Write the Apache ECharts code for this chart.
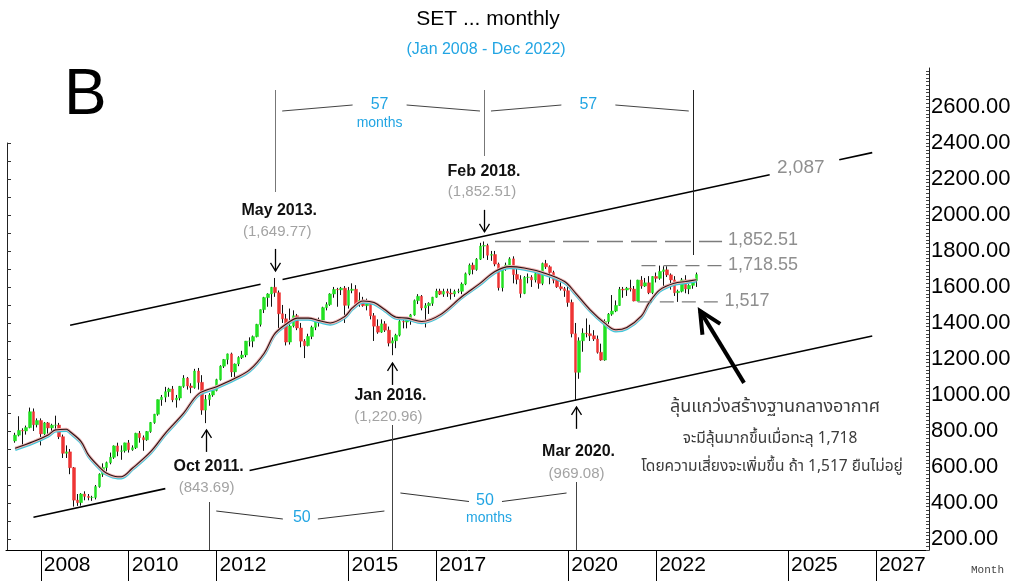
<!DOCTYPE html>
<html><head><meta charset="utf-8">
<script src="https://cdn.jsdelivr.net/npm/echarts@6/dist/echarts.min.js"></script>
<style>html,body{margin:0;padding:0;background:#fff}#c{width:1022px;height:581px}</style>
</head><body><div id="c"></div>
<script>
// ---------------- DATA ----------------
const firstMonth = [2007, 4];   // first category on the axis
const lastMonth  = [2028, 3];   // last category on the axis
const candleStart = [2007, 6];  // first candle
const xTickYears = [2008, 2010, 2012, 2015, 2017, 2020, 2022, 2025, 2027];
const yTickLabels = [200, 400, 600, 800, 1000, 1200, 1400, 1600, 1800, 2000, 2200, 2400, 2600];

const opens = [
 745,777,803,800,819,907,835,
 858,784,845,817,832,833,768,676,684,596,416,402,
 450,437,431,431,491,560,597,624,654,717,687,690,
 734,696,707,787,763,751,797,847,893,974,988,1018,
 1033,973,983,1048,1093,1050,1041,1133,1070,916,975,1000,
 1025,1085,1160,1197,1228,1128,1172,1208,1222,1299,1299,1324,
 1392,1474,1541,1561,1598,1568,1451,1423,1294,1383,1440,1372,
 1299,1274,1325,1376,1414,1416,1485,1502,1561,1586,1584,1593,
 1498,1581,1587,1505,1526,1496,1505,1440,1382,1349,1395,1360,
 1288,1301,1332,1408,1405,1424,1445,1524,1548,1483,1496,1509,
 1543,1577,1560,1575,1566,1561,1575,1576,1616,1673,1721,1697,
 1754,1827,1830,1776,1780,1727,1596,1701,1721,1756,1669,1642,
 1564,1653,1654,1639,1674,1620,1730,1712,1680,1637,1601,1590,
 1579,1514,1340,1126,1301,1343,1340,1329,1311,1237,1194,1408,
 1449,1466,1497,1587,1583,1593,1588,1522,1638,1605,1623,1568,
 1658,1648,1686,1695,1667,1639,1568,1576,1639,1589,1609,1635
];
const highs = [
 790,882,815,830,930,925,870,
 870,850,850,840,885,845,780,720,700,600,450,455,
 465,450,440,500,565,620,630,680,720,735,720,735,
 750,720,790,800,775,800,850,895,975,1000,1045,1040,
 1050,1000,1050,1110,1100,1065,1145,1150,1110,1000,1010,1040,
 1090,1165,1200,1230,1235,1175,1215,1245,1300,1320,1330,1395,
 1475,1545,1565,1600,1649.77,1580,1500,1450,1480,1470,1450,1400,
 1310,1340,1385,1420,1430,1490,1515,1565,1600,1595,1600,1605,
 1600,1620,1610,1570,1545,1535,1520,1455,1420,1420,1410,1380,
 1320,1340,1420,1420,1425,1450,1530,1560,1555,1510,1515,1545,
 1590,1590,1590,1590,1590,1585,1590,1625,1680,1730,1735,1760,
 1845,1852.51,1840,1800,1800,1735,1705,1735,1765,1770,1700,1665,
 1660,1675,1665,1680,1685,1735,1750,1720,1690,1650,1625,1600,
 1610,1530,1400,1320,1370,1425,1390,1360,1330,1285,1420,1455,
 1555,1525,1600,1600,1600,1640,1605,1640,1660,1650,1660,1660,
 1680,1718.55,1715,1715,1675,1660,1585,1650,1665,1615,1640,1680
];
const lows = [
 735,770,722,780,815,800,820,
 720,760,775,800,810,755,650,650,560,380,384,385,
 415,415,412,420,485,545,575,615,645,660,640,680,
 680,690,700,735,690,745,790,840,885,940,960,990,
 960,930,970,1040,1030,1010,1035,1030,890,843.69,940,990,
 1020,1080,1150,1170,1100,1095,1160,1200,1210,1270,1265,1320,
 1380,1455,1490,1490,1545,1360,1400,1275,1280,1375,1360,1265,
 1205,1270,1310,1360,1380,1410,1470,1495,1540,1490,1555,1400,
 1480,1565,1490,1490,1490,1470,1420,1300,1340,1345,1350,1270,
 1220.96,1260,1325,1370,1370,1390,1440,1505,1470,1375,1450,1495,
 1540,1555,1545,1545,1530,1545,1565,1560,1610,1665,1670,1690,
 1750,1760,1750,1745,1715,1580,1575,1690,1700,1620,1615,1540,
 1560,1620,1600,1625,1590,1610,1700,1615,1620,1595,1580,1545,
 1490,1320,969.08,1090,1240,1320,1300,1300,1230,1190,1190,1395,
 1440,1460,1495,1540,1550,1575,1520,1520,1590,1600,1560,1560,
 1625,1640,1600,1655,1585,1550,1517,1570,1565,1560,1590,1600
];
const closes = [
 777,803,800,819,907,835,858,
 784,845,817,832,833,768,676,684,596,416,402,450,
 437,431,431,491,560,597,624,654,717,687,690,734,
 696,707,787,763,751,797,847,893,974,988,1018,1033,
 973,983,1048,1093,1050,1041,1133,1070,916,975,1000,1025,
 1085,1160,1197,1228,1128,1172,1208,1222,1299,1299,1324,1392,
 1474,1541,1561,1598,1568,1451,1423,1294,1383,1440,1372,1299,
 1274,1325,1376,1414,1416,1485,1502,1561,1586,1584,1593,1498,
 1581,1587,1505,1526,1496,1505,1440,1382,1349,1395,1360,1288,
 1301,1332,1408,1405,1424,1445,1524,1548,1483,1496,1509,1543,
 1577,1560,1575,1566,1561,1575,1576,1616,1673,1721,1697,1754,
 1827,1830,1776,1780,1727,1596,1701,1721,1756,1669,1642,1564,
 1653,1654,1639,1674,1620,1730,1712,1680,1637,1601,1590,1579,
 1514,1340,1126,1301,1343,1340,1329,1311,1237,1194,1408,1449,
 1466,1497,1587,1583,1593,1588,1522,1638,1605,1623,1568,1658,
 1648,1686,1695,1667,1639,1568,1576,1639,1589,1609,1635,1669
];

// moving average
const maPoints = [
 ['2007-06',704],['2007-11',741],['2008-03',778],['2008-05',806],['2008-08',810],['2008-09',796],
 ['2008-12',741],['2009-02',667],['2009-05',599],['2009-07',565],['2009-10',546],['2009-11',546],
 ['2010-02',593],['2010-07',685],['2010-11',787],['2011-04',899],['2011-08',1005],['2012-01',1046],
 ['2012-06',1093],['2012-10',1139],['2013-02',1232],['2013-05',1343],['2013-09',1408],['2013-11',1427],
 ['2014-02',1427],['2014-05',1413],['2014-08',1400],['2014-12',1436],['2015-02',1482],['2015-05',1522],
 ['2015-08',1513],['2015-11',1473],['2016-02',1432],['2016-05',1427],['2016-09',1408],['2017-02',1445],
 ['2017-08',1547],['2018-01',1621],['2018-05',1686],['2018-09',1713],['2019-01',1705],['2019-06',1680],
 ['2019-12',1630],['2020-03',1566],['2020-07',1473],['2020-11',1399],['2021-02',1362],['2021-05',1375],
 ['2021-09',1439],['2021-11',1510],['2022-02',1584],['2022-06',1621],['2022-09',1630],['2022-12',1640]
];

// channel lines (segments with gaps where the labels sit)
const upperChannel = [
 [['2008-09',1387],['2013-01',1615]],
 [['2013-07',1641],['2024-08',2223]],
 [['2026-03',2306],['2026-12',2346]]
];
const lowerChannel = [
 [['2007-11',321],['2010-11',480]],
 [['2012-10',581],['2026-12',1328]]
];
// dashed levels
const levels = [
 {value:1852.51, from:'2018-05', to:'2023-07', label:'1,852.51'},
 {value:1718.55, from:'2021-09', to:'2023-07', label:'1,718.55'},
 {value:1517,    from:'2021-08', to:'2023-06', label:'1,517'}
];
const channelLabel = {month:'2024-10', value:2260, label:'2,087'};

// annotated turning points
const topEvents = [
 {month:'2013-05', title:'May 2013.', value:'(1,649.77)'},
 {month:'2018-02', title:'Feb 2018.', value:'(1,852.51)'}
];
const bottomEvents = [
 {month:'2011-10', title:'Oct 2011.', value:'(843.69)'},
 {month:'2016-01', title:'Jan 2016.', value:'(1,220.96)'},
 {month:'2020-03', title:'Mar 2020.', value:'(969.08)'}
];
const topCycleMonths = ['2013-05','2018-02','2022-11'];      // 57 months apart
const bottomCycleMonths = ['2011-11','2016-01','2020-03'];   // 50 months apart

const thaiLines = [
 'ลุ้นแกว่งสร้างฐานกลางอากาศ',
 'จะมีลุ้นมากขึ้นเมื่อทะลุ 1,718',
 'โดยความเสี่ยงจะเพิ่มขึ้น ถ้า 1,517 ยืนไม่อยู่'
];

// ---------------- BUILD ----------------
const pad = n => (n < 10 ? '0' : '') + n;
const cats = [];
for (let y = firstMonth[0], m = firstMonth[1]; y < lastMonth[0] || (y === lastMonth[0] && m <= lastMonth[1]); ) {
  cats.push(y + '-' + pad(m));
  m++; if (m > 12) { m = 1; y++; }
}
const startIdx = cats.indexOf(candleStart[0] + '-' + pad(candleStart[1]));
const wickData = [], bodyData = [];
opens.forEach((o, k) => {
  const c = cats[startIdx + k];
  wickData.push([c, o, closes[k], lows[k], highs[k]]);
  bodyData.push([c, o, closes[k], Math.min(o, closes[k]), Math.max(o, closes[k])]);
});

const FONT = "'Liberation Sans', Arial, sans-serif";
const THAI = "'Noto Sans Thai', 'Noto Sans Thai UI', 'Noto Sans', 'DejaVu Sans', sans-serif";
const BLUE = '#22a5e3';
const GREY = '#8f8f8f';
const Y_MIN = 139, Y_MAX = 2816;

const yearTick = (idx, val) => val.slice(5) === '01' && xTickYears.indexOf(+val.slice(0, 4)) >= 0;
const minorTicks = []; for (let v = 140; v <= 2800; v += 20) minorTicks.push(v);
const leftTicks = []; for (let v = 200; v <= 2400; v += 100) leftTicks.push(v);

const lineSeg = (data, color, width, type, z) => ({
  type: 'line', data: data, symbol: 'none', silent: true, z: z || 6,
  lineStyle: {color: color, width: width, type: type || 'solid'}, animation: false
});

const series = [
  {type:'candlestick', data: wickData, encode:{x:0, y:[1,2,3,4]}, barWidth: 1, z: 2,
   itemStyle:{color:'#111', color0:'#111', borderColor:'#111', borderColor0:'#111', borderWidth:1}},
  {type:'candlestick', data: bodyData, encode:{x:0, y:[1,2,3,4]}, barWidth: 3, z: 3,
   itemStyle:{color:'#22e022', color0:'#ee3434', borderColor:'#22e022', borderColor0:'#ee3434', borderWidth:0.5}},
  {type:'line', data: maPoints, symbol:'none', smooth: 0.35, z: 4,
   lineStyle:{color:'#efb4b4', width: 3, shadowColor:'#3cc8dc', shadowOffsetY: 1.2, shadowBlur: 0}},
  {type:'line', data: maPoints, symbol:'none', smooth: 0.35, z: 5,
   lineStyle:{color:'#2a1414', width: 1.1}}
];
upperChannel.concat(lowerChannel).forEach(s => series.push(lineSeg(s, '#000', 1.6, 'solid', 6)));
levels.forEach(l => series.push(lineSeg([[l.from, l.value], [l.to, l.value]], '#7c7c7c', 1.4,
  l.value > 1800 ? [26, 8] : [14, 8], 6)));

const option = {
  animation: false,
  backgroundColor: '#fff',
  grid: [
    {left: 6, right: 93, top: 68, bottom: 31, outerBoundsMode: 'none', containLabel: false},
    {left: 7, top: 143, bottom: 31, width: 1, outerBoundsMode: 'none', containLabel: false}
  ],
  xAxis: [
    {type:'category', data: cats, gridIndex: 0, boundaryGap: true,
     axisLine:{show:true, lineStyle:{color:'#000', width:1}},
     axisTick:{show:true, alignWithLabel:true, interval: yearTick, length: 31, lineStyle:{color:'#000', width:1}},
     axisLabel:{show:true, interval: yearTick, formatter: v => v.slice(0, 4), align:'left', padding:[0,0,0,3],
       margin: 5, fontSize: 21, fontFamily: FONT, color:'#000'},
     splitLine:{show:false}},
    {type:'value', gridIndex: 1, show: false, min: 0, max: 1}
  ],
  yAxis: [
    {type:'value', gridIndex: 0, position:'right', min: Y_MIN, max: Y_MAX, scale: true,
     axisLine:{show:true, lineStyle:{color:'#222', width:1}},
     axisTick:{show:true, inside:true, length: 3, customValues: minorTicks, lineStyle:{color:'#444', width:1}},
     axisLabel:{show:true, customValues: yTickLabels, formatter: v => v.toFixed(2), margin: 2,
       fontSize: 22, fontFamily: FONT, color:'#000'},
     splitLine:{show:false}},
    {type:'value', gridIndex: 1, position:'left', min: Y_MIN, max: 2401,
     axisLine:{show:true, lineStyle:{color:'#222', width:1}},
     axisTick:{show:true, inside:true, length: 4, customValues: leftTicks, lineStyle:{color:'#333'}},
     axisLabel:{show:false}, splitLine:{show:false}}
  ],
  series: series
};

const chart = echarts.init(document.getElementById('c'), null, {width: 1022, height: 581});
chart.setOption(option);

// ---------------- ANNOTATIONS (positioned through the axes) ----------------
const P = (m, v) => chart.convertToPixel({xAxisIndex: 0, yAxisIndex: 0}, [m, v]);
const g = [];
const txt = (x, y, text, font, fill, align) => g.push({type:'text', x: x, y: y, silent: true, z: 50,
  style:{text: text, font: font, fill: fill, align: align || 'center', textAlign: align || 'center',
         verticalAlign: 'middle', textVerticalAlign: 'middle'}});
const ln = (x1, y1, x2, y2, stroke, w) => g.push({type:'line', silent:true, z: 40,
  shape:{x1:x1, y1:y1, x2:x2, y2:y2}, style:{stroke: stroke, lineWidth: w || 1}});
const pl = (pts, stroke, w) => g.push({type:'polyline', silent:true, z: 40,
  shape:{points: pts}, style:{stroke: stroke, lineWidth: w || 1, fill: null}});

// title
txt(488, 19, 'SET ... monthly', '21px ' + FONT, '#000');
txt(486, 50, '(Jan 2008 - Dec 2022)', '16px ' + FONT, BLUE);
txt(64, 96, 'B', '64px ' + FONT, '#000', 'left');

// vertical cycle lines
const yTop = 90, yAxisBottom = P(cats[0], Y_MIN)[1];
const topStops = [192, 156, 255];
topCycleMonths.forEach((m, i) => { const x = Math.round(P(m, 1000)[0]) + 0.5; ln(x, yTop, x, topStops[i], i === 2 ? '#222' : '#777', 1); });
const botStops = [502, 425, 482];
bottomCycleMonths.forEach((m, i) => { const x = Math.round(P(m, 1000)[0]) + 0.5; ln(x, botStops[i], x, yAxisBottom, '#444', 1); });

// top braces
const tx = topCycleMonths.map(m => P(m, 1000)[0]);
[[0,1,true],[1,2,false]].forEach(([a, b, withMonths]) => {
  const xa = tx[a], xb = tx[b], mid = (xa + xb) / 2;
  ln(xa + 7, 111, mid - 27, 105, '#444', 1);
  ln(mid + 27, 105, xb - 4, 111, '#444', 1);
  txt(mid, 105, '57', '16px ' + FONT, BLUE);
  if (withMonths) txt(mid, 123, 'months', '14px ' + FONT, BLUE);
});
// bottom braces
const bx = bottomCycleMonths.map(m => P(m, 1000)[0]);
ln(bx[0] + 7, 511, (bx[0]+bx[1])/2 - 18, 519, '#333', 1);
ln((bx[0]+bx[1])/2 + 17, 519, bx[1] - 8, 511, '#333', 1);
txt((bx[0]+bx[1])/2 + 1, 518, '50', '16px ' + FONT, BLUE);
ln(bx[1] + 8, 493, (bx[1]+bx[2])/2 - 15, 501.5, '#333', 1);
ln((bx[1]+bx[2])/2 + 18, 501.5, bx[2] - 9, 493, '#333', 1);
txt((bx[1]+bx[2])/2 + 1, 501, '50', '16px ' + FONT, BLUE);
txt((bx[1]+bx[2])/2 + 5, 518, 'months', '14px ' + FONT, BLUE);

// event arrows + labels
const arrowDown = (m, tipV) => {
  const [x, y] = P(m, tipV); const xx = Math.round(x) + 0.5;
  ln(xx, y - 22, xx, y, '#000', 1.3); pl([[xx - 5, y - 8], [xx, y], [xx + 5, y - 8]], '#000', 1.3);
};
const arrowUp = (m, tipV) => {
  const [x, y] = P(m, tipV); const xx = Math.round(x) + 0.5;
  ln(xx, y, xx, y + 22, '#000', 1.3); pl([[xx - 5, y + 8], [xx, y], [xx + 5, y + 8]], '#000', 1.3);
};
arrowDown(topEvents[0].month, 1689); arrowDown(topEvents[1].month, 1906);
arrowUp(bottomEvents[0].month, 806); arrowUp(bottomEvents[1].month, 1178); arrowUp(bottomEvents[2].month, 934);

[[topEvents[0], 4, 211, 232], [topEvents[1], 0, 172, 192],
 [bottomEvents[0], 3, 467, 488], [bottomEvents[1], -2, 396, 417], [bottomEvents[2], 3, 452, 474]].forEach(([e, dx, y1, y2]) => {
  const x = P(e.month, 1000)[0] + dx;
  txt(x, y1, e.title, 'bold 16px ' + FONT, '#111');
  txt(x - 2, y2, e.value, '15px ' + FONT, '#a3a3a3');
});

// level labels
levels.forEach(l => { const [x, y] = P(l.to, l.value); txt(x + 6, y - 1, l.label, '18px ' + FONT, GREY, 'left'); });
{ const [x, y] = P(channelLabel.month, channelLabel.value); txt(x, y, channelLabel.label, '19px ' + FONT, GREY, 'left'); }

// big arrow
{
  const tip = P('2023-01', 1467), tail = P('2024-01', 1067);
  ln(tail[0], tail[1], tip[0], tip[1], '#000', 4);
  const ang = Math.atan2(tail[1] - tip[1], tail[0] - tip[0]), L = 24, s = 0.45;
  pl([[tip[0] + L * Math.cos(ang + s), tip[1] + L * Math.sin(ang + s)], tip,
      [tip[0] + L * Math.cos(ang - s), tip[1] + L * Math.sin(ang - s)]], '#000', 4);
}

// Thai commentary
txt(775, 408, thaiLines[0], '18px ' + THAI, '#3c3c3c');
txt(770, 440, thaiLines[1], '15.5px ' + THAI, '#3c3c3c');
txt(772, 468, thaiLines[2], '15.5px ' + THAI, '#3c3c3c');

// axis name
txt(971, 570, 'Month', '11px "Liberation Mono", monospace', '#444', 'left');

chart.setOption({graphic: {elements: g}});
</script>
</body></html>
